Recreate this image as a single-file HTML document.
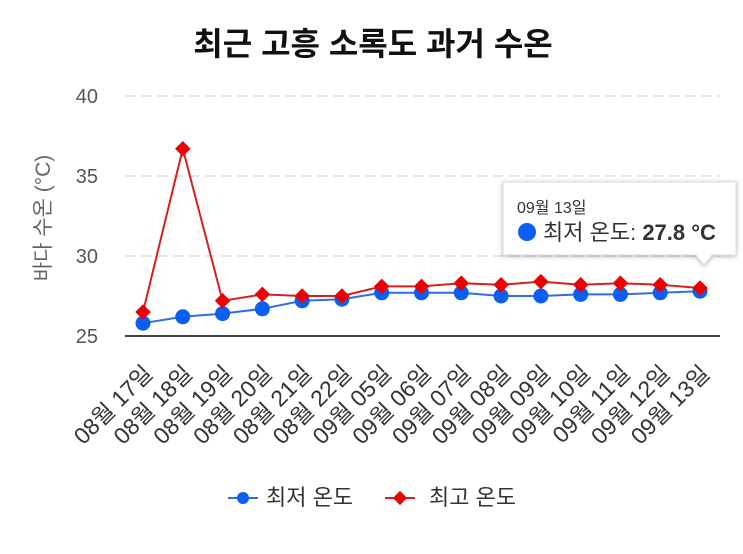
<!DOCTYPE html>
<html><head><meta charset="utf-8"><style>
body{margin:0;background:#fff;width:743px;height:549px;overflow:hidden;font-family:"Liberation Sans","Noto Sans CJK KR",sans-serif}
svg text{font-family:"Liberation Sans","Noto Sans CJK KR",sans-serif}
</style></head><body>
<svg id="c" width="743" height="549">
<text x="373" y="55" text-anchor="middle" font-size="32" font-weight="bold" fill="#111">최근 고흥 소록도 과거 수온</text>
<text transform="translate(50,218) rotate(-90)" text-anchor="middle" font-size="21" fill="#666">바다 수온 (°C)</text>
<g id="grid"></g><g id="xl"></g><g id="series"></g>
<g>
<path d="M503,182 h233 v73 h-24 l-8,10 l-8,-10 h-193 z" fill="#fff" stroke="#ddd" filter="drop-shadow(0 1px 2px rgba(0,0,0,0.3))"/>
<text x="517" y="213" font-size="16" fill="#333">09월 13일</text>
<circle cx="527" cy="232" r="9" fill="#0a5ef0"/>
<text x="543" y="240" font-size="22" fill="#333">최저 온도: <tspan font-weight="bold">27.8 °C</tspan></text>
</g>
<g>
<g><line x1="228" y1="498" x2="258" y2="498" stroke="#2f6ee0" stroke-width="2"/><circle cx="243" cy="498" r="6" fill="#0a5ef0"/><text x="266" y="505" font-size="22" fill="#333">최저 온도</text></g>
<g><line x1="385" y1="498" x2="415" y2="498" stroke="#d32020" stroke-width="2"/><rect x="395" y="493" width="10" height="10" transform="rotate(45 400 498)" fill="#e00"/><text x="429" y="505" font-size="22" fill="#333">최고 온도</text></g>
</g>
</svg>
<script>
const categories=["08월 17일","08월 18일","08월 19일","08월 20일","08월 21일","08월 22일","09월 05일","09월 06일","09월 07일","09월 08일","09월 09일","09월 10일","09월 11일","09월 12일","09월 13일"];
const minTemps=[25.8,26.2,26.4,26.7,27.2,27.3,27.7,27.7,27.7,27.5,27.5,27.6,27.6,27.7,27.8];
const maxTemps=[26.5,36.7,27.2,27.6,27.5,27.5,28.1,28.1,28.3,28.2,28.4,28.2,28.3,28.2,28.0];
const yTicks=[25,30,35,40];
const NS="http://www.w3.org/2000/svg";
const X=i=>143+i*(700-143)/(categories.length-1);
const Y=v=>336-(v-25)*16;
function mk(t,a,p){const e=document.createElementNS(NS,t);for(const k in a)e.setAttribute(k,a[k]);p.appendChild(e);return e;}
const grid=document.getElementById('grid');
yTicks.forEach(t=>{
 const l=mk('line',{x1:125,x2:720,y1:Y(t),y2:Y(t),stroke:t===25?'#444':'#ddd','stroke-width':t===25?2:1.5,'stroke-dasharray':t===25?'':'10,6'},grid);
 
 
 const tx=mk('text',{x:98,y:Y(t)+7,'text-anchor':'end','font-size':20,fill:'#555'},grid);
 tx.textContent=t;
 
 
});
const xl=document.getElementById('xl');
categories.forEach((c,i)=>{
 const t=mk('text',{x:X(i)+11,y:375,'text-anchor':'end','font-size':23,fill:'#333',transform:`rotate(-45 ${X(i)+11} 375)`},xl);
 t.textContent=c;
 
 
});
const s=document.getElementById('series');
function line(vals,col,name){
 const p=mk('polyline',{points:vals.map((v,i)=>X(i)+','+Y(v)).join(' '),fill:'none',stroke:col,'stroke-width':2},s);
 
 
}
line(minTemps,'#2f6ee0','min-temp-line');
line(maxTemps,'#d32020','max-temp-line');
minTemps.forEach((v,i)=>{
 const c=mk('circle',{cx:X(i),cy:Y(v),r:7.5,fill:'#0a5ef0'},s);
 
 
});
maxTemps.forEach((v,i)=>{
 const r=mk('rect',{x:X(i)-5.5,y:Y(v)-5.5,width:11,height:11,fill:'#e00',transform:`rotate(45 ${X(i)} ${Y(v)})`},s);
 
 
});
</script>
</body></html>
